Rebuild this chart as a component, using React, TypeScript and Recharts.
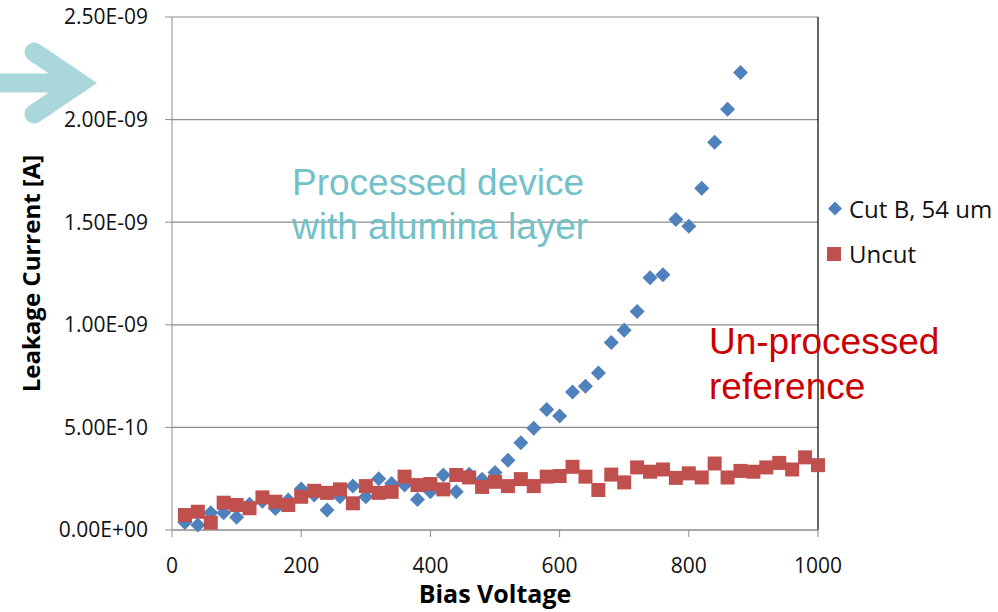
import React from "react";
import {
  ScatterChart,
  Scatter,
  XAxis,
  YAxis,
  CartesianGrid,
  Legend,
  ReferenceLine,
} from "recharts";

// bias voltage steps (V)
const voltages = [
  20, 40, 60, 80, 100, 120, 140, 160, 180, 200, 220, 240, 260, 280, 300, 320,
  340, 360, 380, 400, 420, 440, 460, 480, 500, 520, 540, 560, 580, 600, 620,
  640, 660, 680, 700, 720, 740, 760, 780, 800, 820, 840, 860, 880, 900, 920,
  940, 960, 980, 1000,
];

// leakage current, in units of 1e-10 A
const cutB = [
  0.36, 0.24, 0.84, 0.84, 0.62, 1.25, 1.4, 1.05, 1.46, 2.0, 1.7, 0.97, 1.62,
  2.14, 1.62, 2.5, 2.27, 2.19, 1.49, 1.86, 2.68, 1.86, 2.72, 2.47, 2.8, 3.4,
  4.25, 4.96, 5.87, 5.56, 6.73, 7.0, 7.65, 9.14, 9.73, 10.65, 12.29, 12.44,
  15.13, 14.8, 16.65, 18.9, 20.5, 22.3,
];

const uncut = [
  0.73, 0.89, 0.36, 1.33, 1.22, 1.06, 1.59, 1.38, 1.22, 1.62, 1.91, 1.81, 1.98,
  1.3, 2.14, 1.81, 1.86, 2.6, 2.19, 2.24, 1.98, 2.68, 2.56, 2.1, 2.35, 2.14,
  2.48, 2.14, 2.6, 2.63, 3.08, 2.6, 1.95, 2.7, 2.32, 3.05, 2.84, 2.95, 2.54,
  2.76, 2.56, 3.24, 2.56, 2.88, 2.84, 3.05, 3.27, 2.95, 3.54, 3.16,
];

const xTicks = [0, 200, 400, 600, 800, 1000];
const yTicks = [0, 5e-10, 1e-9, 1.5e-9, 2e-9, 2.5e-9];

const BLUE = "#4F81BD";
const RED = "#C0504D";
const FONT = "'Open Sans', sans-serif";

const cutBData = cutB.map((c, i) => ({ v: voltages[i], a: c * 1e-10 }));
const uncutData = uncut.map((c, i) => ({ v: voltages[i], a: c * 1e-10 }));

const sci = (val: number) => {
  if (val === 0) return "0.00E+00";
  let e = Math.floor(Math.log10(Math.abs(val)));
  let m = val / Math.pow(10, e);
  if (Math.round(m * 100) / 100 >= 10) {
    m /= 10;
    e += 1;
  }
  const sign = e < 0 ? "-" : "+";
  return `${m.toFixed(2)}E${sign}${String(Math.abs(e)).padStart(2, "0")}`;
};

const Diamond = (props: any) => {
  const { cx, cy } = props;
  const r = 7.5;
  return (
    <path
      d={`M${cx},${cy - r}L${cx + r},${cy}L${cx},${cy + r}L${cx - r},${cy}Z`}
      fill={BLUE}
    />
  );
};

const Square = (props: any) => {
  const { cx, cy } = props;
  const r = 7;
  return <rect x={cx - r} y={cy - r} width={r * 2} height={r * 2} fill={RED} />;
};

const YTitle = ({ viewBox }: any) => {
  const x = viewBox.x + 30;
  const y = viewBox.y + viewBox.height / 2;
  return (
    <text
      x={x}
      y={y}
      transform={`rotate(-90 ${x} ${y})`}
      textAnchor="middle"
      dominantBaseline="central"
      fontFamily={FONT}
      fontWeight="bold"
      fontSize={24}
      fill="#000"
    >
      Leakage Current [A]
    </text>
  );
};

const XTitle = ({ viewBox }: any) => (
  <text
    x={viewBox.x + viewBox.width / 2}
    y={603}
    textAnchor="middle"
    fontFamily={FONT}
    fontWeight="bold"
    fontSize={25}
    fill="#000"
  >
    Bias Voltage
  </text>
);

const rowStyle = { display: "flex", alignItems: "center", height: 45, width: 172 };

const LegendBox = () => (
  <div style={{ fontFamily: FONT, fontSize: 24, color: "#111", whiteSpace: "nowrap", width: 172 }}>
    <div style={rowStyle}>
      <svg width={23} height={20} style={{ flexShrink: 0 }}>
        <path d="M9,2.5L16,9.5L9,16.5L2,9.5Z" fill={BLUE} />
      </svg>
      <span>Cut B, 54 um</span>
    </div>
    <div style={rowStyle}>
      <svg width={23} height={20} style={{ flexShrink: 0 }}>
        <rect x={1} y={3} width={14} height={14} fill={RED} />
      </svg>
      <span>Uncut</span>
    </div>
  </div>
);

export default function App() {
  return (
    <div style={{ position: "relative", width: 998, height: 612 }}>
      <style>{"body{margin:0}"}</style>
      <ScatterChart
        width={998}
        height={612}
        margin={{ top: 17, right: 180, bottom: 0, left: 0 }}
      >
        <CartesianGrid vertical={false} stroke="#8c8c8c" strokeWidth={1.2} />
        <XAxis
          type="number"
          dataKey="v"
          domain={[0, 1000]}
          ticks={xTicks}
          height={82}
          tickSize={7}
          tickMargin={21}
          axisLine={{ stroke: "#8c8c8c" }}
          tickLine={{ stroke: "#8c8c8c" }}
          tick={{ fill: "#111", fontSize: 21, fontFamily: FONT }}
          label={<XTitle />}
        />
        <YAxis
          type="number"
          dataKey="a"
          domain={[0, 2.5e-9]}
          ticks={yTicks}
          width={172}
          tickSize={7}
          tickMargin={17}
          tickFormatter={sci}
          axisLine={{ stroke: "#8c8c8c" }}
          tickLine={{ stroke: "#8c8c8c" }}
          tick={{ fill: "#111", fontSize: 21, fontFamily: FONT }}
          label={<YTitle />}
        />
        <ReferenceLine x={1000} stroke="#000" strokeWidth={1.2} />
        <Scatter
          name="Cut B, 54 um"
          data={cutBData}
          shape={<Diamond />}
          isAnimationActive={false}
        />
        <Scatter
          name="Uncut"
          data={uncutData}
          shape={<Square />}
          isAnimationActive={false}
        />
        <Legend
          layout="horizontal"
          verticalAlign="middle"
          align="right"
          content={<LegendBox />}
          wrapperStyle={{
            position: "absolute",
            left: 826,
            top: 186,
            width: 0,
            height: 0,
            overflow: "visible",
          }}
        />
      </ScatterChart>
      <svg
        width={998}
        height={612}
        style={{ position: "absolute", left: 0, top: 0, pointerEvents: "none" }}
      >
        <g stroke="#A9D7DB" strokeWidth={19} fill="none" strokeLinecap="round">
          <line x1={-10} y1={83} x2={76} y2={83} />
          <polyline points="34,52 80,83 34,114" strokeLinejoin="miter" />
        </g>
        <g fontFamily="'Liberation Sans', Arial, sans-serif" fontSize={37}>
          <text x={292} y={195} fill="#72C1C8">
            Processed device
          </text>
          <text x={292} y={239} fill="#72C1C8">
            with alumina layer
          </text>
          <text x={709} y={354} fill="#CC0000">
            Un-processed
          </text>
          <text x={709} y={399} fill="#CC0000">
            reference
          </text>
        </g>
      </svg>
    </div>
  );
}
